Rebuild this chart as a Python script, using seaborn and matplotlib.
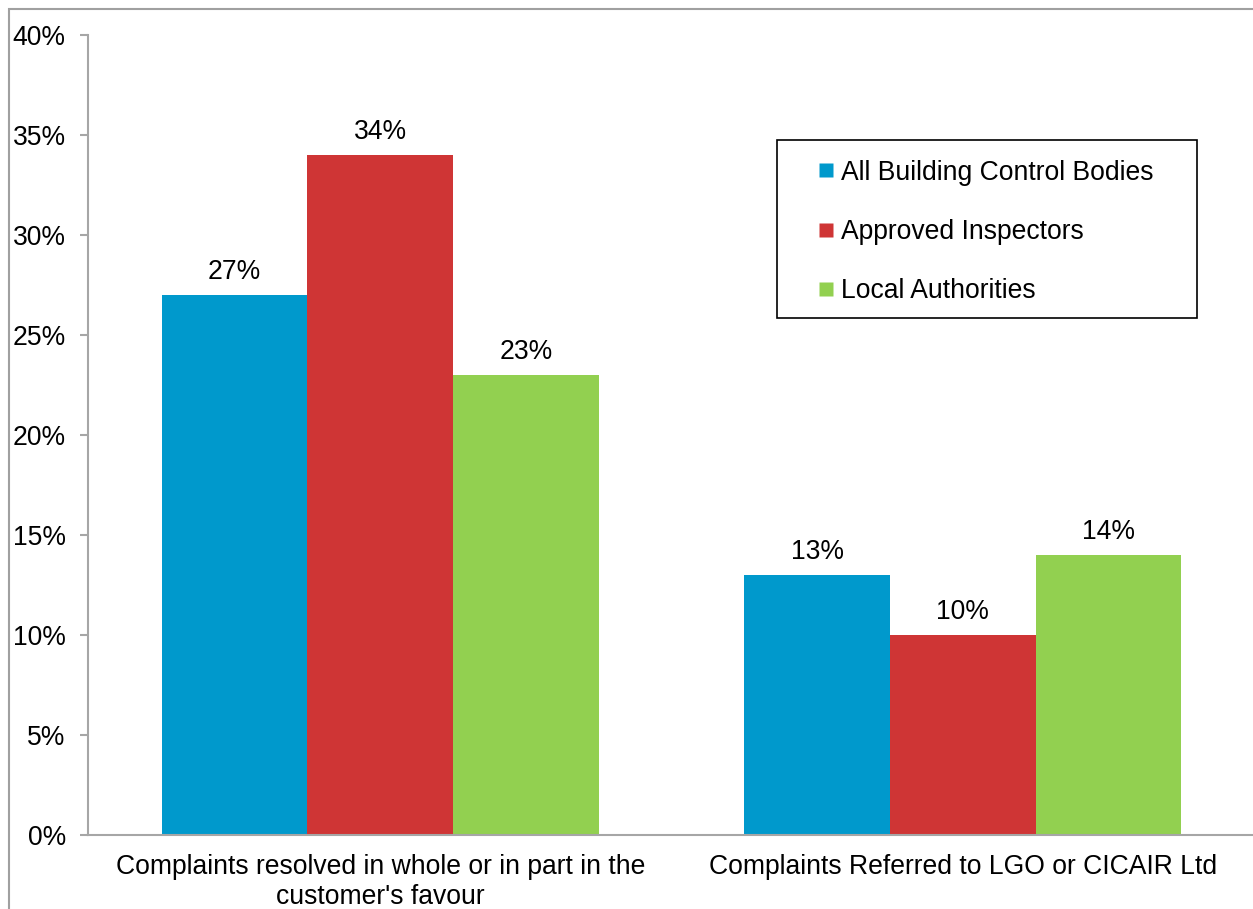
import matplotlib
matplotlib.use("Agg")
import matplotlib.pyplot as plt
from matplotlib.lines import Line2D
from matplotlib.patches import Rectangle
from matplotlib.ticker import FixedLocator, FuncFormatter
import seaborn as sns
import pandas as pd

# Data
categories = [
    "Complaints resolved in whole or in part in the\ncustomer's favour",
    "Complaints Referred to LGO or CICAIR Ltd",
]
series_names = ["All Building Control Bodies", "Approved Inspectors", "Local Authorities"]
all_bcb = [27, 13]
approved_inspectors = [34, 10]
local_authorities = [23, 14]
y_ticks = [0, 5, 10, 15, 20, 25, 30, 35, 40]

colors = ["#0099CC", "#CF3535", "#92D050"]

rows = []
for name, vals in zip(series_names, [all_bcb, approved_inspectors, local_authorities]):
    for cat, v in zip(categories, vals):
        rows.append({"category": cat, "series": name, "value": v})
df = pd.DataFrame(rows)

sns.set_theme(style="white")
plt.rcParams["font.family"] = ["Liberation Sans", "DejaVu Sans"]
plt.rcParams["text.color"] = "black"
plt.rcParams["xtick.labelcolor"] = "black"
plt.rcParams["ytick.labelcolor"] = "black"
FS = 19.1
axis_gray = "#A6A6A6"

fig = plt.figure(figsize=(12.53, 9.09), dpi=100)
ax = fig.add_axes([88 / 1253, 74 / 909, 1170 / 1253, 800 / 909])

sns.barplot(data=df, x="category", y="value", hue="series", order=categories,
            hue_order=series_names, palette=colors, width=0.75, saturation=1,
            edgecolor="none", linewidth=0, ax=ax, legend=False)

for cont in ax.containers:
    ax.bar_label(cont, labels=[f"{v:.0f}%" for v in cont.datavalues],
                 padding=7, fontsize=FS, color="black")

ax.set_ylim(0, 40)
ax.set_xlim(-0.5 - 1 / 585, 1.5 + 4 / 585)
ax.yaxis.set_major_locator(FixedLocator(y_ticks))
ax.yaxis.set_major_formatter(FuncFormatter(lambda v, p: f"{v:.0f}%"))

# separator ticks between categories, labels centred on categories
ax.xaxis.set_major_locator(FixedLocator([-0.5, 0.5, 1.5]))
ax.xaxis.set_major_formatter(FuncFormatter(lambda v, p: ""))
ax.set_xticks([0, 1], labels=categories, minor=True)
ax.tick_params(axis="x", which="minor", length=0, pad=14, labelsize=FS, labelcolor="black")
ax.tick_params(axis="x", which="major", length=6, width=1.5, color=axis_gray, direction="out")
ax.tick_params(axis="y", length=6, width=1.5, color=axis_gray, direction="out",
               pad=10, labelsize=FS, left=True, labelcolor="black")
for lab in ax.get_xticklabels(minor=True):
    lab.set_linespacing(1.17)

ax.set_xlabel("")
ax.set_ylabel("")
for side in ["top", "right"]:
    ax.spines[side].set_visible(False)
for side in ["left", "bottom"]:
    ax.spines[side].set_color(axis_gray)
    ax.spines[side].set_linewidth(1.5)

handles = [Line2D([0], [0], marker="s", linestyle="none", markersize=9.5,
                  markerfacecolor=c, markeredgecolor="none") for c in colors]
leg = ax.legend(handles, series_names, loc="upper left",
                bbox_to_anchor=(0.5856, 0.869), fontsize=FS, frameon=False,
                borderpad=0.75, labelspacing=1.25,
                handlelength=2.5, handletextpad=-0.7, borderaxespad=0)
for t in leg.get_texts():
    t.set_color("black")

# legend box
ax.add_patch(Rectangle((0.589, 0.6465), 0.359, 0.2225, transform=ax.transAxes,
                       fill=False, edgecolor="black", linewidth=1.2,
                       clip_on=False, zorder=5))

# chart-area border
fig.add_artist(Rectangle((9 / 1253, -0.1), 1.2, 1 - 9 / 909 + 0.1,
                         transform=fig.transFigure, fill=False,
                         edgecolor="#A0A0A0", linewidth=1.5))

fig.savefig("out.png", dpi=100)
